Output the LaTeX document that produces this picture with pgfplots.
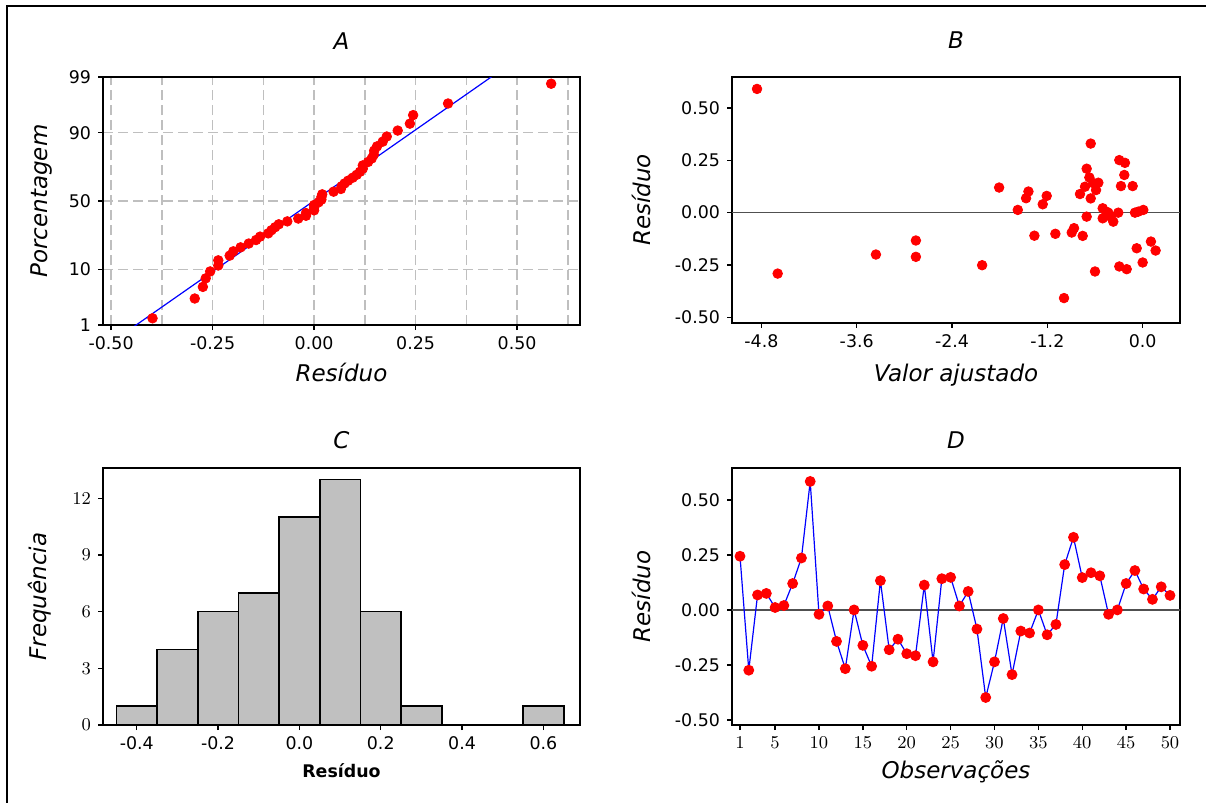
\documentclass[border=0pt]{standalone}
\usepackage{pgfplots}
\pgfplotsset{compat=1.18}
\usepackage{fontspec}
\setmainfont{DejaVu Sans}
\newcommand\tickfont{\fontsize{8.7}{10}\selectfont}
\newcommand\labfont{\fontsize{11.5}{13}\selectfont\itshape}
\definecolor{barfill}{HTML}{C0C0C0}
\definecolor{zeroline}{HTML}{505050}
\pgfplotsset{
  panel/.style={
    scale only axis,
    anchor=north west,
    axis line style={line width=1pt},
    tick align=outside,
    xtick pos=bottom, ytick pos=left,
    major tick length=2.5pt,
    major tick style={line width=0.7pt, black},
    tick label style={font=\tickfont},
    every axis title/.style={at={(0.5,1)}, anchor=base, font=\labfont},
  },
  dots/.style={only marks, mark=*, mark size=2.4pt, mark options={draw=red, fill=red}},
}
\begin{document}
\begin{tikzpicture}
\path[use as bounding box] (0,0) rectangle (603pt,-401.5pt);
\draw[line width=1.1pt] (3.6pt,-402pt) -- (3.6pt,-3pt) -- (604pt,-3pt);

% A: normal probability plot
\begin{axis}[panel, at={(51.5pt,-38.5pt)}, width=238.5pt, height=124pt,
  xmin=-0.520, xmax=0.655, ymin=-2.326, ymax=2.326,
  xtick={-0.5,-0.25,0,0.25,0.5}, xticklabels={-0.50,-0.25,0.00,0.25,0.50},
  minor xtick={-0.375,-0.125,0.125,0.375,0.625}, minor tick length=0pt,
  ytick={-2.326,-1.2816,0,1.2816,2.326}, yticklabels={1,10,50,90,99},
  xmajorgrids, xminorgrids, ymajorgrids,
  major grid style={gray!50, line width=0.7pt, dash pattern=on 5pt off 2.5pt},
  minor grid style={gray!50, line width=0.7pt, dash pattern=on 5pt off 2.5pt},
  title={A}, title style={yshift=14pt},
  xlabel={Resíduo}, ylabel={Porcentagem},
  every axis x label/.style={at={(axis description cs:0.5,-0.19)}, anchor=center, font=\labfont},
  every axis y label/.style={at={(axis description cs:-0.128,0.5)}, anchor=center, rotate=90, font=\labfont},
]
\addplot[blue, line width=0.6pt] coordinates {(-0.471,-2.5) (0.469,2.5)};
\addplot[dots] coordinates {
(-0.398,-2.200) (-0.294,-1.829) (-0.274,-1.611) (-0.267,-1.451) (-0.256,-1.321)
(-0.236,-1.210) (-0.236,-1.113) (-0.208,-1.025) (-0.199,-0.944) (-0.181,-0.869)
(-0.161,-0.798) (-0.143,-0.732) (-0.133,-0.668) (-0.113,-0.607) (-0.105,-0.548)
(-0.096,-0.492) (-0.087,-0.437) (-0.066,-0.382) (-0.039,-0.329) (-0.020,-0.277)
(-0.020,-0.226) (0.000,-0.175) (0.000,-0.125) (0.000,-0.075) (0.011,-0.025)
(0.018,0.025) (0.018,0.075) (0.020,0.125) (0.048,0.175) (0.066,0.226)
(0.068,0.277) (0.075,0.329) (0.084,0.382) (0.095,0.437) (0.105,0.492)
(0.113,0.548) (0.120,0.607) (0.120,0.668) (0.133,0.732) (0.142,0.798)
(0.147,0.869) (0.148,0.944) (0.155,1.025) (0.169,1.113) (0.179,1.210)
(0.206,1.321) (0.236,1.451) (0.244,1.611) (0.330,1.829) (0.584,2.200)
};
\end{axis}

% B: residuals vs fitted
\begin{axis}[panel, at={(366pt,-38.5pt)}, width=224pt, height=123pt,
  xmin=-5.17, xmax=0.47, ymin=-0.527, ymax=0.648,
  xtick={-4.8,-3.6,-2.4,-1.2,0}, xticklabels={-4.8,-3.6,-2.4,-1.2,0.0},
  ytick={-0.5,-0.25,0,0.25,0.5}, yticklabels={-0.50,-0.25,0.00,0.25,0.50},
  title={B}, title style={yshift=14.5pt},
  xlabel={Valor ajustado}, ylabel={Resíduo},
  every axis x label/.style={at={(axis description cs:0.5,-0.211)}, anchor=center, font=\labfont},
  every axis y label/.style={at={(axis description cs:-0.203,0.5)}, anchor=center, rotate=90, font=\labfont},
]
\addplot[zeroline, line width=0.8pt] coordinates {(-6,0) (1,0)};
\addplot[dots] coordinates {
(-4.855,0.591) (-4.595,-0.291) (-3.358,-0.200) (-2.855,-0.133) (-2.855,-0.211)
(-2.021,-0.251) (-1.807,0.120) (-1.572,0.013) (-1.468,0.069) (-1.438,0.101)
(-1.363,-0.110) (-1.258,0.040) (-1.208,0.080) (-1.099,-0.101) (-0.990,-0.408)
(-0.893,-0.095) (-0.864,-0.074) (-0.789,0.089) (-0.755,-0.111) (-0.726,0.124)
(-0.705,0.210) (-0.705,-0.019) (-0.654,0.330) (-0.671,0.168) (-0.654,0.068)
(-0.621,0.141) (-0.600,-0.281) (-0.587,0.108) (-0.558,0.143) (-0.503,0.021)
(-0.503,-0.027) (-0.461,0.005) (-0.433,0.000) (-0.403,-0.019) (-0.370,-0.043)
(-0.307,0.000) (-0.294,0.251) (-0.294,-0.257) (-0.273,0.127) (-0.231,0.180)
(-0.223,0.238) (-0.201,-0.270) (-0.126,0.127) (-0.097,0.000) (-0.075,-0.170)
(-0.055,0.005) (0.008,0.013) (0.000,-0.238) (0.104,-0.138) (0.163,-0.181)
};
\end{axis}

% C: histogram
\begin{axis}[panel, at={(51.5pt,-234pt)}, width=238.5pt, height=128.5pt,
  xmin=-0.483, xmax=0.690, ymin=0, ymax=13.6,
  xtick={-0.4,-0.2,0,0.2,0.4,0.6}, xticklabels={-0.4,-0.2,0.0,0.2,0.4,0.6},
  ytick={0,3,6,9,12},
  title={C}, title style={yshift=10pt},
  xlabel={Resíduo}, ylabel={Frequência},
  every axis x label/.style={at={(axis description cs:0.5,-0.178)}, anchor=center, font=\tickfont\bfseries},
  every axis y label/.style={at={(axis description cs:-0.132,0.5)}, anchor=center, rotate=90, font=\labfont},
]
\addplot[ybar interval, draw=black, line width=0.8pt, fill=barfill] coordinates {
(-0.45,1) (-0.35,4) (-0.25,6) (-0.15,7) (-0.05,11) (0.05,13) (0.15,6) (0.25,1)
(0.35,0) (0.45,0) (0.55,1) (0.65,1)
};
\end{axis}

% D: residuals vs order
\begin{axis}[panel, at={(366pt,-234pt)}, width=224pt, height=128.5pt,
  xmin=0.088, xmax=51.14, ymin=-0.523, ymax=0.645,
  xtick={1,5,10,15,20,25,30,35,40,45,50},
  ytick={-0.5,-0.25,0,0.25,0.5}, yticklabels={-0.50,-0.25,0.00,0.25,0.50},
  title={D}, title style={yshift=10pt},
  xlabel={Observações}, ylabel={Resíduo},
  every axis x label/.style={at={(axis description cs:0.5,-0.182)}, anchor=center, font=\labfont},
  every axis y label/.style={at={(axis description cs:-0.203,0.5)}, anchor=center, rotate=90, font=\labfont},
]
\addplot[zeroline, line width=0.8pt] coordinates {(0,0) (52,0)};
\addplot[blue, line width=0.6pt, mark=*, mark size=2.4pt, mark options={draw=red, fill=red}] coordinates {
(1,0.244) (2,-0.274) (3,0.068) (4,0.075) (5,0.011) (6,0.020) (7,0.120) (8,0.236)
(9,0.584) (10,-0.020) (11,0.018) (12,-0.143) (13,-0.267) (14,0.000) (15,-0.161)
(16,-0.256) (17,0.133) (18,-0.181) (19,-0.133) (20,-0.199) (21,-0.208) (22,0.113)
(23,-0.236) (24,0.142) (25,0.148) (26,0.018) (27,0.084) (28,-0.087) (29,-0.398)
(30,-0.236) (31,-0.039) (32,-0.294) (33,-0.096) (34,-0.105) (35,0.000) (36,-0.113)
(37,-0.066) (38,0.206) (39,0.330) (40,0.147) (41,0.169) (42,0.155) (43,-0.020)
(44,0.000) (45,0.120) (46,0.179) (47,0.095) (48,0.048) (49,0.105) (50,0.066)
};
\end{axis}
\end{tikzpicture}
\end{document}
